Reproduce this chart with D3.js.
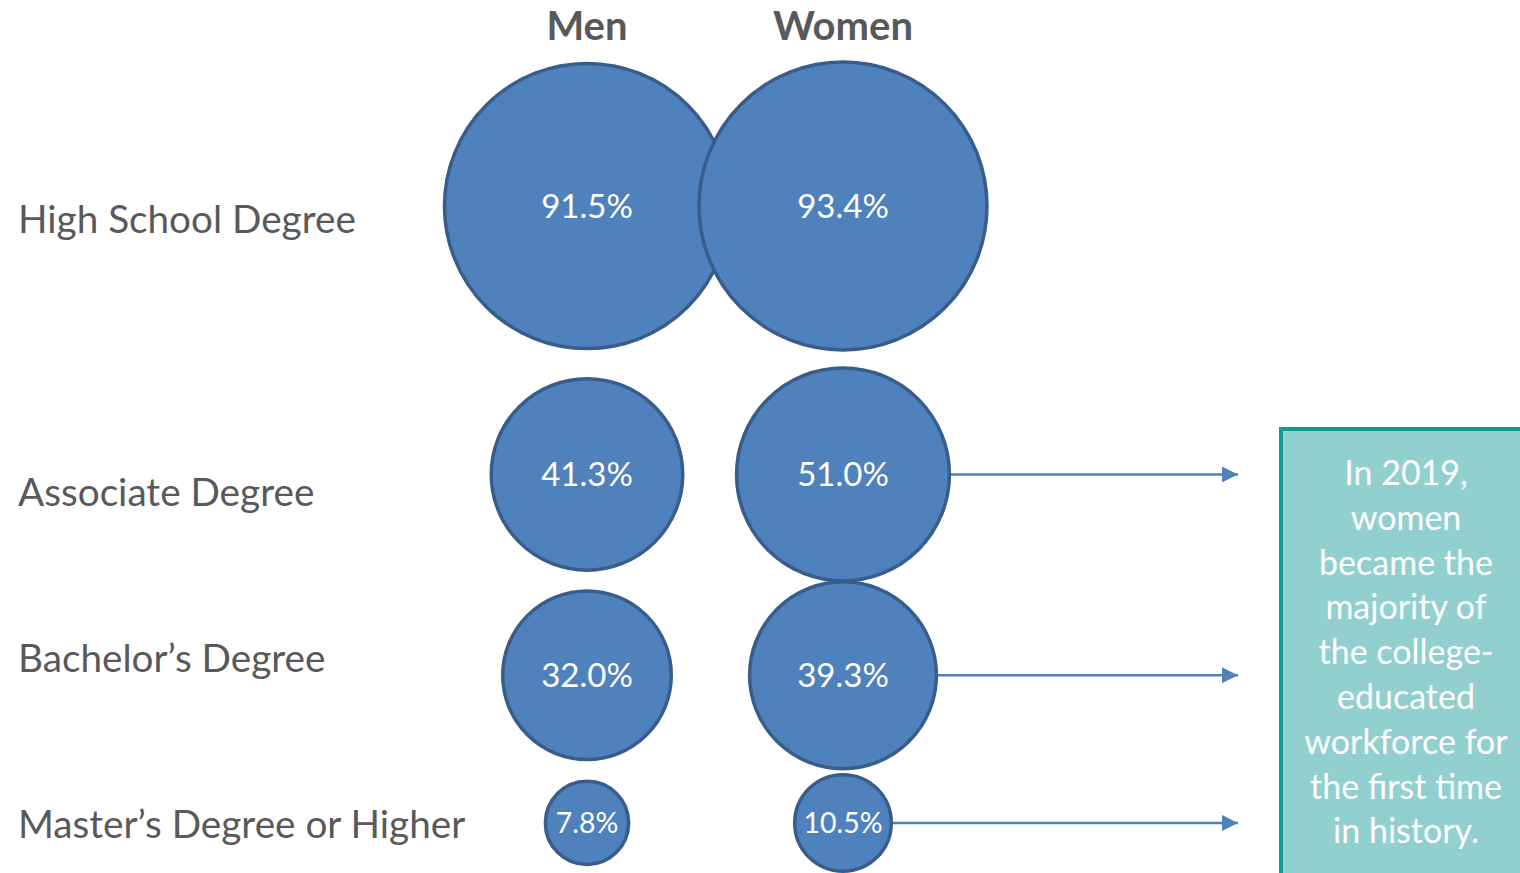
<!DOCTYPE html>
<html>
<head>
<meta charset="utf-8">
<script src="https://cdn.jsdelivr.net/npm/d3@7/dist/d3.min.js"></script>
<style>
  html, body { margin: 0; padding: 0; background: #ffffff; }
  svg { display: block; }
  text { font-family: Lato, "Open Sans", "Noto Sans", sans-serif; }
</style>
</head>
<body>
<svg id="chart" width="1520" height="873"></svg>
<script>
// Educational attainment by degree level, men vs women (%)
const degrees = ["High School Degree", "Associate Degree", "Bachelor\u2019s Degree", "Master\u2019s Degree or Higher"];
const groups = ["Men", "Women"];
const menValues = [91.5, 41.3, 32.0, 7.8];
const womenValues = [93.4, 51.0, 39.3, 10.5];
const noteLines = ["In 2019,", "women", "became the", "majority of", "the college-", "educated", "workforce for", "the first time", "in history."];

const W = 1520, H = 873;
const svg = d3.select("#chart");

const blueFill = "#4f81bd";
const blueStroke = "#385d8a";
const grey = "#595959";

// bubble area encodes the percentage
const r = d3.scaleSqrt().domain([0, 100]).range([0, 149]);
const x = d3.scaleOrdinal().domain(groups).range([587, 843]);

// stack rows top to bottom, each row as tall as its largest bubble
const rowTop = 62, rowGaps = [18, 1, 6];
const rowY = [];
let cursor = rowTop;
degrees.forEach((d, i) => {
  const maxR = r(Math.max(menValues[i], womenValues[i]));
  rowY.push(cursor + maxR);
  cursor += 2 * maxR + (rowGaps[i] || 0);
});
// small vertical nudges for the row captions
const labelNudge = [13, 18, -17, 2];

const rows = degrees.map((d, i) => ({
  degree: d, i,
  cells: [
    { group: "Men", value: menValues[i], row: i },
    { group: "Women", value: womenValues[i], row: i }
  ]
}));

// arrow marker
svg.append("defs").append("marker")
  .attr("id", "arrow")
  .attr("viewBox", "0 0 10 10")
  .attr("refX", 10).attr("refY", 5)
  .attr("markerWidth", 16).attr("markerHeight", 16)
  .attr("markerUnits", "userSpaceOnUse")
  .attr("orient", "auto")
  .append("path").attr("d", "M0,0 L10,5 L0,10 Z").attr("fill", blueFill);

// column headers
svg.selectAll("text.header").data(groups).join("text")
  .attr("class", "header")
  .attr("x", d => x(d)).attr("y", 40)
  .attr("text-anchor", "middle")
  .attr("font-size", 40).attr("font-weight", 700)
  .attr("fill", grey)
  .text(d => d);

// row labels
svg.selectAll("text.rowlabel").data(degrees).join("text")
  .attr("class", "rowlabel")
  .attr("x", 18).attr("y", (d, i) => rowY[i] + labelNudge[i])
  .attr("dy", "0.35em")
  .attr("font-size", 38.7)
  .attr("fill", grey)
  .text(d => d);

// arrows from women's college-level bubbles to the note
const arrowRows = rows.filter(d => d.i > 0);
svg.selectAll("line.arrow").data(arrowRows).join("line")
  .attr("class", "arrow")
  .attr("x1", d => x("Women") + r(womenValues[d.i]))
  .attr("x2", 1238)
  .attr("y1", d => rowY[d.i]).attr("y2", d => rowY[d.i])
  .attr("stroke", blueFill).attr("stroke-width", 2.5)
  .attr("marker-end", "url(#arrow)");

// bubbles
const cells = rows.flatMap(d => d.cells);
const g = svg.selectAll("g.cell").data(cells).join("g")
  .attr("class", "cell")
  .attr("transform", d => `translate(${x(d.group)},${rowY[d.row]})`);

g.append("circle")
  .attr("r", d => r(d.value))
  .attr("fill", blueFill)
  .attr("stroke", blueStroke)
  .attr("stroke-width", 3.5);

g.append("text")
  .attr("text-anchor", "middle")
  .attr("dy", "0.35em")
  .attr("font-size", d => d.row === 3 ? 28.5 : 33)
  .attr("fill", "#ffffff")
  .text(d => d.value.toFixed(1) + "%");

// note box
const box = svg.append("g").attr("transform", "translate(1281,429)");
box.append("rect")
  .attr("width", 260).attr("height", 470)
  .attr("fill", "#92d0cf")
  .attr("stroke", "#0f9b96").attr("stroke-width", 4);

box.selectAll("text").data(noteLines).join("text")
  .attr("x", 125).attr("y", (d, i) => 44 + i * 44.8)
  .attr("dy", "0.35em")
  .attr("text-anchor", "middle")
  .attr("font-size", 34)
  .attr("fill", "#ffffff")
  .text(d => d);
</script>
</body>
</html>
